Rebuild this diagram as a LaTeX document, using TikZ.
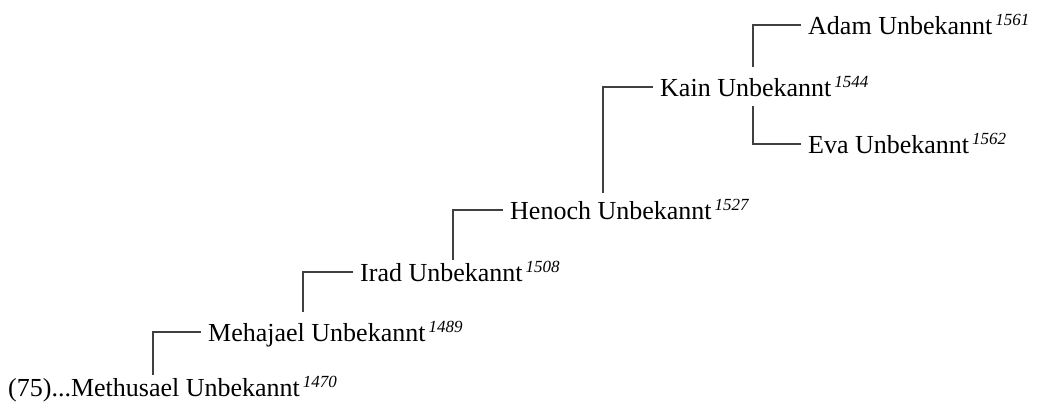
\documentclass[tikz,border=0pt]{standalone}
\usepackage{fontspec}
\setmainfont{Liberation Serif}
\usepackage{tikz}

\newcommand{\gebjahr}[1]{\kern3pt\raisebox{9pt}{\fontsize{17}{17}\selectfont\itshape #1}}

\begin{document}
\begin{tikzpicture}[
x=1pt, y=-1pt,
every node/.style={font=\fontsize{26}{30}\selectfont},
person/.style={anchor=west, inner xsep=7pt, inner ysep=3pt, text height=18pt, text depth=0pt},
link/.style={draw=black!75, line width=1.1pt}
]
\useasboundingbox (0,0) rectangle (1039,410);

\node[person] (methusael) at (1,387) {(75)...Methusael Unbekannt\gebjahr{1470}};
\node[person] (mehajael) at (201,332) {Mehajael Unbekannt\gebjahr{1489}};
\node[person] (irad) at (353,272) {Irad Unbekannt\gebjahr{1508}};
\node[person] (henoch) at (503,210) {Henoch Unbekannt\gebjahr{1527}};
\node[person] (kain) at (653,87) {Kain Unbekannt\gebjahr{1544}};
\node[person] (adam) at (801,25) {Adam Unbekannt\gebjahr{1561}};
\node[person] (eva) at (801,144) {Eva Unbekannt\gebjahr{1562}};

% Eltern-Verbindungen
\draw[link] (mehajael.west) -| ([xshift=152pt]methusael.north west);
\draw[link, shorten >=8pt] (irad.west) -| ([xshift=102pt]mehajael.north west);
\draw[link] (henoch.west) -| ([xshift=100pt]irad.north west);
\draw[link, shorten >=5pt] (kain.west) -| ([xshift=100pt]henoch.north west);
\draw[link, shorten >=8pt] (adam.west) -| ([xshift=100pt]kain.north west);
\draw[link, shorten >=7pt] (eva.west) -| ([xshift=100pt]kain.south west);

\end{tikzpicture}
\end{document}
